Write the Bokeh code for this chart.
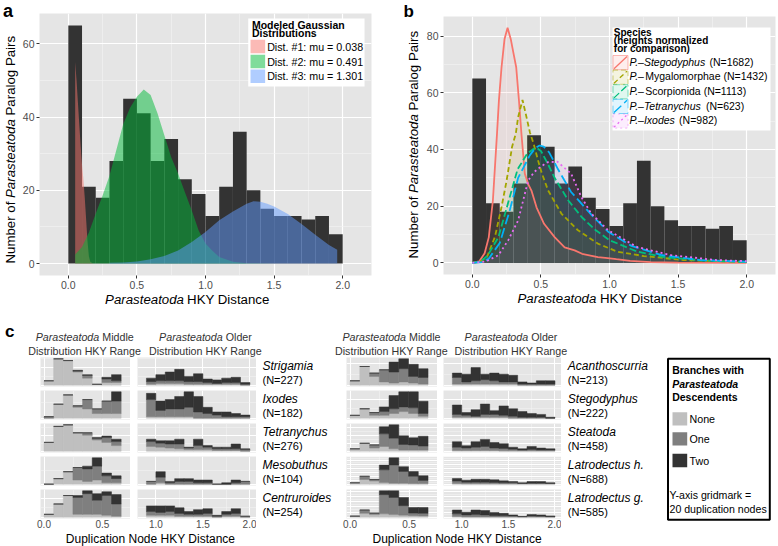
import math
from bokeh.plotting import figure
from bokeh.models import (Range1d, FixedTicker, SingleIntervalTicker, Label,
                          ColumnDataSource, PrintfTickFormatter)
from bokeh.layouts import row, column
from bokeh.embed import file_html
from bokeh.resources import INLINE

FONT = "Liberation Sans"

# ---------------- data: panels a / b ----------------
bin_left = [0.0, 0.1, 0.2, 0.3, 0.4, 0.5, 0.6, 0.7, 0.8, 0.9,
            1.0, 1.1, 1.2, 1.3, 1.4, 1.5, 1.6, 1.7, 1.8, 1.9]
bin_width = 0.1
pair_counts = [65, 21, 18, 28, 45, 41, 28, 34, 23, 19,
               13, 21, 36, 20, 15, 13, 13, 12, 13, 8]

dist1_x = [0.05, 0.06, 0.07, 0.08, 0.09, 0.10, 0.11, 0.12, 0.13, 0.14, 0.15, 0.16, 0.18]
dist1_y = [55, 50, 44, 38, 32, 27, 23, 18, 12, 6, 2, 0.5, 0]
dist2_x = [0.05, 0.10, 0.15, 0.20, 0.25, 0.30, 0.35, 0.40, 0.45, 0.50, 0.55, 0.60,
           0.65, 0.70, 0.75, 0.80, 0.85, 0.90, 0.95, 1.00, 1.05, 1.10, 1.20, 1.30, 1.50]
dist2_y = [2.5, 4.5, 8.5, 13.7, 18.6, 24, 31, 38, 42.5, 45.5, 47.5, 46,
           41, 35, 29, 24.6, 19.5, 14.5, 9, 5.5, 3.5, 1.8, 0.5, 0.1, 0]
dist3_x = [0.30, 0.40, 0.50, 0.60, 0.70, 0.80, 0.90, 1.00, 1.10, 1.20, 1.30, 1.35,
           1.40, 1.45, 1.50, 1.60, 1.70, 1.80, 1.90, 1.96]
dist3_y = [0.2, 0.3, 0.6, 1.2, 2.1, 3.6, 5.9, 8.6, 11.8, 14.2, 16.3, 17,
           16.9, 16.3, 15.6, 13.5, 10.8, 7.9, 5.1, 3.8]
dist_labels = ["Dist. #1: mu = 0.038", "Dist. #2: mu = 0.491", "Dist. #3: mu = 1.301"]
dist_colors = ["#F8766D", "#00BA38", "#619CFF"]

steg_x = [0.0, 0.05, 0.09, 0.12, 0.15, 0.18, 0.194, 0.213, 0.235, 0.257, 0.28, 0.30,
          0.32, 0.34, 0.359, 0.383, 0.41, 0.431, 0.468, 0.523, 0.60, 0.673, 0.746,
          0.80, 0.915, 0.97, 1.05, 1.15, 1.30, 1.50, 2.00]
steg_y = [0, 0.5, 3.4, 9, 22, 45.6, 57.3, 69, 79, 82.9, 79, 74,
          69, 57.3, 45, 31.4, 27.5, 25.5, 19.6, 13.8, 9.1, 5.5, 4.4,
          3.2, 2.0, 1.8, 1.3, 0.7, 0.3, 0.1, 0]
myg_x = [0.0, 0.05, 0.107, 0.165, 0.213, 0.25, 0.29, 0.317, 0.334, 0.366, 0.395, 0.42,
         0.45, 0.48, 0.504, 0.552, 0.649, 0.77, 0.915, 1.06, 1.25, 1.54, 2.0]
myg_y = [0, 0.3, 2.1, 9.2, 19.7, 29, 41, 45.6, 51.4, 57.5, 51.4, 46,
         41.5, 36, 32, 25.6, 17.4, 11.5, 6.8, 3.9, 2.4, 1.0, 0.3]
scor_x = [0.0, 0.06, 0.11, 0.19, 0.26, 0.33, 0.40, 0.44, 0.47, 0.50, 0.55, 0.60,
          0.70, 0.80, 0.90, 1.00, 1.20, 1.40, 1.70, 2.00]
scor_y = [0, 0.5, 2.5, 9, 21, 33, 38.5, 40, 40.5, 39.5, 35, 30,
          22, 16, 11.5, 8, 4, 2, 0.8, 0.3]
tetr_x = [0.0, 0.07, 0.12, 0.20, 0.27, 0.334, 0.42, 0.46, 0.49, 0.52, 0.56, 0.625,
          0.72, 0.867, 0.99, 1.16, 1.375, 1.66, 2.0]
tetr_y = [0, 0.3, 1.5, 7, 18, 30, 38, 40.5, 41.4, 41, 39, 33,
          25, 17, 11, 6, 2.8, 1, 0.4]
ixo_x = [0.0, 0.1, 0.19, 0.262, 0.334, 0.407, 0.45, 0.5, 0.55, 0.62, 0.66, 0.72,
         0.795, 0.867, 0.99, 1.2, 1.45, 1.78, 2.0]
ixo_y = [0, 0.5, 2.7, 8, 15, 29, 32, 34, 35.5, 35.7, 34, 31.5,
         23.2, 17.4, 11.5, 5.6, 2.7, 1, 0.6]
species_colors = ["#F8766D", "#A3A500", "#00BF7D", "#00B0F6", "#E76BF3"]
species_dash = ["solid", "5 3", "7 3", "10 4", "2 3"]
species_legend = [
    [("P.–Stegodyphus", "italic"), (" (N=1682)", "normal")],
    [("P.–", "italic"), ("Mygalomorphae (N=1432)", "normal")],
    [("P.–", "italic"), ("Scorpionida (N=1113)", "normal")],
    [("P.–Tetranychus", "italic"), (" (N=623)", "normal")],
    [("P.–Ixodes", "italic"), (" (N=982)", "normal")],
]

# ---------------- data: panel c ([none, one, two]) ----------------
mid_left = [0.0, 0.0825, 0.165, 0.2475, 0.33, 0.4125, 0.495, 0.5775]
mid_width = 0.0825
old_left = [0.9, 1.0, 1.1, 1.2, 1.3, 1.4, 1.5, 1.6, 1.7, 1.8, 1.9]
old_width = 0.1

strigamia_mid = [[5, 30, 28, 15, 8, 1, 3, 3], [0, 0, 0, 1, 3, 0, 4, 2], [0, 0, 0, 1, 1, 0, 2, 7]]
strigamia_old = [[1, 2, 2, 2, 1, 1, 1, 1, 1, 1, 0], [3, 3, 3, 3, 3, 3, 2, 1, 2, 2, 1], [4, 7, 10, 13, 6, 9, 4, 4, 5, 6, 2]]
ixodes_mid = [[0, 9, 15, 7, 6, 3, 3, 3], [1, 0, 0, 1, 6, 3, 8, 8], [0, 0, 0, 0, 0, 0, 0, 6]]
ixodes_old = [[1, 1, 1, 1, 1, 0, 0, 0, 0, 0, 0], [11, 4, 5, 5, 6, 4, 3, 2, 1, 1, 1], [4, 6, 6, 8, 10, 10, 4, 2, 3, 2, 1]]
tetranychus_mid = [[11, 31, 33, 23, 20, 14, 11, 7], [0, 0, 0, 0, 3, 2, 6, 5], [0, 0, 0, 0, 0, 1, 2, 3]]
tetranychus_old = [[6, 5, 4, 3, 2, 2, 2, 1, 1, 1, 0], [6, 5, 5, 6, 2, 5, 3, 2, 2, 2, 2], [3, 3, 4, 6, 1, 8, 2, 2, 2, 6, 1]]
mesobuthus_mid = [[0, 4, 9, 3, 2, 3, 1, 1], [0, 0, 0, 9, 9, 10, 5, 3], [0, 0, 0, 0, 2, 6, 2, 2]]
mesobuthus_old = [[0, 1, 0, 0, 0, 0, 0, 0, 0, 0, 0], [2, 4, 1, 2, 2, 1, 1, 0, 0, 1, 2], [0, 4, 1, 2, 2, 2, 2, 0, 1, 2, 0]]
centruroides_mid = [[3, 14, 23, 3, 3, 3, 2, 1], [0, 0, 0, 18, 22, 15, 21, 13], [0, 0, 0, 2, 3, 7, 4, 10]]
centruroides_old = [[2, 2, 2, 1, 1, 1, 1, 0, 1, 1, 0], [4, 3, 4, 3, 2, 2, 3, 1, 2, 3, 1], [6, 7, 6, 6, 3, 5, 5, 1, 3, 5, 0]]
acanthoscurria_mid = [[4, 17, 8, 3, 2, 3, 2, 1], [0, 0, 3, 11, 10, 12, 6, 6], [0, 0, 0, 0, 9, 9, 11, 8]]
acanthoscurria_old = [[1, 1, 1, 1, 1, 1, 1, 0, 0, 0, 0], [6, 2, 3, 4, 3, 2, 2, 1, 1, 1, 1], [4, 7, 12, 5, 7, 7, 6, 2, 1, 3, 3]]
stegodyphus_mid = [[3, 10, 3, 3, 5, 7, 5, 2], [0, 0, 3, 4, 5, 5, 6, 3], [0, 0, 0, 5, 14, 16, 17, 13]]
stegodyphus_old = [[1, 1, 1, 1, 1, 1, 0, 0, 0, 0, 0], [3, 2, 1, 3, 3, 2, 2, 1, 1, 1, 0], [10, 3, 7, 11, 4, 10, 8, 6, 4, 3, 1]]
steatoda_mid = [[6, 20, 8, 12, 6, 3, 3, 3], [0, 0, 8, 32, 27, 14, 13, 10], [0, 0, 0, 18, 34, 22, 18, 25]]
steatoda_old = [[2, 2, 2, 2, 2, 1, 1, 1, 1, 1, 1], [8, 6, 8, 10, 6, 6, 4, 2, 3, 2, 2], [14, 6, 14, 18, 14, 12, 5, 3, 8, 5, 3]]
latrodectus_h_mid = [[7, 24, 16, 8, 5, 5, 3, 3], [0, 16, 8, 65, 93, 60, 37, 16], [0, 0, 0, 24, 36, 24, 24, 24]]
latrodectus_h_old = [[3, 2, 2, 2, 2, 2, 2, 2, 2, 2, 2], [13, 8, 8, 8, 7, 5, 5, 2, 3, 3, 2], [13, 10, 15, 15, 13, 10, 7, 3, 8, 8, 3]]
latrodectus_g_mid = [[4, 15, 10, 13, 10, 8, 6, 5], [0, 13, 6, 75, 67, 37, 10, 10], [0, 0, 0, 15, 26, 32, 22, 23]]
latrodectus_g_old = [[3, 1, 1, 1, 1, 1, 1, 1, 1, 1, 1], [10, 8, 9, 8, 5, 5, 4, 1, 4, 3, 1], [15, 10, 18, 17, 12, 9, 4, 1, 5, 5, 3]]

left_species = [("Strigamia", "(N=227)", strigamia_mid, strigamia_old),
                ("Ixodes", "(N=182)", ixodes_mid, ixodes_old),
                ("Tetranychus", "(N=276)", tetranychus_mid, tetranychus_old),
                ("Mesobuthus", "(N=104)", mesobuthus_mid, mesobuthus_old),
                ("Centruroides", "(N=254)", centruroides_mid, centruroides_old)]
right_species = [("Acanthoscurria", "(N=213)", acanthoscurria_mid, acanthoscurria_old),
                 ("Stegodyphus", "(N=222)", stegodyphus_mid, stegodyphus_old),
                 ("Steatoda", "(N=458)", steatoda_mid, steatoda_old),
                 ("Latrodectus h.", "(N=688)", latrodectus_h_mid, latrodectus_h_old),
                 ("Latrodectus g.", "(N=585)", latrodectus_g_mid, latrodectus_g_old)]
stack_names = ["None", "One", "Two"]
stack_colors = ["#BFBFBF", "#7F7F7F", "#333333"]

# ---------------- text helpers ----------------
W = {' ': 278, '(': 333, ')': 333, '.': 278, ',': 278, ':': 278, '=': 584, '#': 556,
     '-': 333, '–': 556,
     'A': 667, 'B': 667, 'C': 722, 'D': 722, 'E': 667, 'F': 611, 'G': 778, 'H': 722,
     'I': 278, 'J': 500, 'K': 667, 'L': 556, 'M': 833, 'N': 722, 'O': 778, 'P': 667,
     'Q': 778, 'R': 722, 'S': 667, 'T': 611, 'U': 722, 'V': 667, 'W': 944, 'X': 667,
     'Y': 667, 'Z': 611,
     'a': 556, 'b': 556, 'c': 500, 'd': 556, 'e': 556, 'f': 278, 'g': 556, 'h': 556,
     'i': 222, 'j': 222, 'k': 500, 'l': 222, 'm': 833, 'n': 556, 'o': 556, 'p': 556,
     'q': 556, 'r': 333, 's': 500, 't': 278, 'u': 556, 'v': 500, 'w': 722, 'x': 500,
     'y': 500, 'z': 500}
MID = 0.3465  # distance from baseline to the middle of the font box, in em


def tw(s, size):
    return sum(W.get(ch, 556) for ch in s) * size / 1000.0


def add_text(p, fx, fy, segs, x, y, size, align="left", color="black", vertical=False):
    """(x, y) is the start (or centre) of the text baseline, in page pixels."""
    if isinstance(segs, str):
        segs = [(segs, "normal")]
    total = sum(tw(t, size) for t, _ in segs)
    pos = 0.0
    if align == "center":
        pos = -total / 2
    elif align == "right":
        pos = -total
    sp = tw(" ", size)
    for t, st in segs:
        core = t.strip(" ")
        if not core:
            pos += len(t) * sp
            continue
        pos += (len(t) - len(t.lstrip(" "))) * sp
        if vertical:
            lx, ly, ang = x - MID * size, y - pos, math.pi / 2
        else:
            lx, ly, ang = x + pos, y - MID * size, 0
        p.add_layout(Label(x=fx(lx), y=fy(ly), text=core, text_font=FONT,
                           text_font_size=f"{size}px", text_font_style=st,
                           text_color=color, text_align="left",
                           text_baseline="middle", angle=ang))
        pos += tw(core, size)
        pos += (len(t) - len(t.rstrip(" "))) * sp


def ident(v):
    return v


def base_fig(w, h, xr, yr, **kw):
    p = figure(width=w, height=h, x_range=xr, y_range=yr, output_backend="svg",
               toolbar_location=None, min_border=0, **kw)
    p.outline_line_color = None
    p.border_fill_color = "white"
    return p


def text_fig(w, h, x0, x1, y0, y1, **kw):
    # a text-only canvas whose data coordinates are page pixels (y grows downward)
    p = base_fig(w, h, Range1d(x0, x1), Range1d(y1, y0),
                 x_axis_location=None, y_axis_location=None, **kw)
    p.grid.visible = False
    p.background_fill_color = "white"
    return p


def style_axes(p, xt, xm, yt, ym):
    p.xaxis.ticker = FixedTicker(ticks=xt, minor_ticks=xm)
    p.yaxis.ticker = FixedTicker(ticks=yt, minor_ticks=ym)
    p.xaxis.formatter = PrintfTickFormatter(format="%.1f")
    for ax in (p.xaxis, p.yaxis):
        ax.axis_line_color = None
        ax.major_tick_line_color = "#333333"
        ax.major_tick_out = 3
        ax.major_tick_in = 0
        ax.minor_tick_line_color = None
        ax.major_label_text_font_size = "10.5px"
        ax.major_label_text_color = "#4D4D4D"
        ax.major_label_text_font = FONT
        ax.major_label_standoff = 1
    p.grid.grid_line_color = "white"
    p.grid.grid_line_width = 1.2
    p.grid.minor_grid_line_color = "#F4F4F4"
    p.grid.minor_grid_line_width = 0.6
    p.background_fill_color = "#E5E5E5"


def mapper(fl, fr, x0, x1, ft, fb, ytop, ybot):
    fx = lambda px: x0 + (px - fl) / (fr - fl) * (x1 - x0)
    fy = lambda py: ytop - (py - ft) / (fb - ft) * (ytop - ybot)
    return fx, fy


TOP_H = 320

# ---------------- panel a ----------------
ya = text_fig(19, TOP_H, 0, 19, 0, TOP_H)
add_text(ya, ident, ident, [("a", "bold")], 2.5, 17, 18)
add_text(ya, ident, ident, [("Number of ", "normal"), ("Parasteatoda", "italic"), (" Paralog Pairs", "normal")],
         14.5, 263, 13.25, vertical=True)

pa = base_fig(366, 291, Range1d(-0.21, 2.21), Range1d(-3.25, 68.25),
              min_border_left=18, min_border_right=14, min_border_top=13, min_border_bottom=16)
style_axes(pa, [0, 0.5, 1, 1.5, 2], [0.25, 0.75, 1.25, 1.75], [0, 20, 40, 60], [10, 30, 50])
fxa, fya = mapper(37, 371, -0.21, 2.21, 13, 275, 68.25, -3.25)
pa.quad(left=bin_left, right=[b + bin_width for b in bin_left], bottom=0, top=pair_counts,
        fill_color="#333333", line_color=None)
for xs, ys, c in zip([dist1_x, dist2_x, dist3_x], [dist1_y, dist2_y, dist3_y], dist_colors):
    pa.varea(x=xs, y1=[0] * len(xs), y2=ys, fill_color=c, fill_alpha=0.5)
pa.quad(left=fxa(247), right=fxa(364), top=fya(18), bottom=fya(86), fill_color="white", line_color=None)
for i, c in enumerate(dist_colors):
    kt = [39.3, 54.3, 69.0][i]
    pa.quad(left=fxa(249.3), right=fxa(264), top=fya(kt), bottom=fya(kt + 13.4),
            fill_color=c, fill_alpha=0.5, line_color=None)
    add_text(pa, fxa, fya, dist_labels[i], 266, [50, 65, 79.5][i], 10.7)
add_text(pa, fxa, fya, [("Modeled Gaussian", "bold")], 250.7, 28.3, 10.5)
add_text(pa, fxa, fya, [("Distributions", "bold")], 250.7, 36, 10.5)

# same side borders as pa (a column aligns them); the frame spans page x 37..371
xa = text_fig(366, TOP_H - 291, 37, 371, 291, TOP_H, min_border_left=18, min_border_right=14)
add_text(xa, ident, ident, [("Parasteatoda", "italic"), (" HKY Distance", "normal")], 103, 303.3, 13.25)

# ---------------- panel b ----------------
yb = text_fig(37, TOP_H, 385, 422, 0, TOP_H)
add_text(yb, ident, ident, [("b", "bold")], 403, 16.5, 17)
add_text(yb, ident, ident, [("Number of ", "normal"), ("Parasteatoda", "italic"), (" Paralog Pairs", "normal")],
         417.5, 258, 13.25, vertical=True)

pb = base_fig(356, 290, Range1d(-0.21, 2.21), Range1d(-4.1, 86.9),
              min_border_left=21, min_border_right=3, min_border_top=16, min_border_bottom=16)
style_axes(pb, [0, 0.5, 1, 1.5, 2], [0.25, 0.75, 1.25, 1.75], [0, 20, 40, 60, 80], [10, 30, 50, 70])
fxb, fyb = mapper(443, 775, -0.21, 2.21, 16, 274, 86.9, -4.1)
pb.quad(left=bin_left, right=[b + bin_width for b in bin_left], bottom=0, top=pair_counts,
        fill_color="#333333", line_color=None)
curves_x = [steg_x, myg_x, scor_x, tetr_x, ixo_x]
curves_y = [steg_y, myg_y, scor_y, tetr_y, ixo_y]
for xs, ys, c in zip(curves_x, curves_y, species_colors):
    pb.varea(x=xs, y1=[0] * len(xs), y2=ys, fill_color=c, fill_alpha=0.08)
for xs, ys, c, d in zip(curves_x, curves_y, species_colors, species_dash):
    pb.line(x=xs, y=ys, line_color=c, line_width=1.8, line_dash=d)
pb.quad(left=fxb(612), right=fxb(770), top=fyb(27), bottom=fyb(130), fill_color="white", line_color=None)
for i, (c, d) in enumerate(zip(species_colors, species_dash)):
    kt = 55 + 14.6 * i
    pb.quad(left=fxb(612.5), right=fxb(627.5), top=fyb(kt), bottom=fyb(kt + 14.2),
            fill_color=c, fill_alpha=0.12, line_color=c, line_alpha=0.5, line_dash=d, line_width=1)
    pb.segment(x0=fxb(613.5), y0=fyb(kt + 13.2), x1=fxb(626.5), y1=fyb(kt + 1),
               line_color=c, line_width=1.3, line_dash=d)
    add_text(pb, fxb, fyb, species_legend[i], 629, kt + 10, 10.5)
add_text(pb, fxb, fyb, [("Species", "bold")], 613.3, 35, 10)
add_text(pb, fxb, fyb, [("(heights normalized", "bold")], 613.3, 43, 10)
add_text(pb, fxb, fyb, [("for comparison)", "bold")], 613.3, 51, 10)

xb = text_fig(356, TOP_H - 290, 443, 775, 290, TOP_H, min_border_left=21, min_border_right=3)
add_text(xb, ident, ident, [("Parasteatoda", "italic"), (" HKY Distance", "normal")], 517, 302.3, 13.25)


# ---------------- panel c ----------------
def small(vals, lefts, bw, xr, ticks, minor, ymax, w, bl, last):
    h = 42 if last else 33
    bb = 13 if last else 4
    p = base_fig(w, h, Range1d(*xr), Range1d(-0.05 * ymax, 1.05 * ymax),
                 min_border_left=bl, min_border_right=0, min_border_top=0, min_border_bottom=bb,
                 x_axis_location="below" if last else None, y_axis_location=None)
    p.background_fill_color = "#E5E5E5"
    p.xgrid.ticker = FixedTicker(ticks=ticks, minor_ticks=minor)
    p.ygrid.ticker = SingleIntervalTicker(interval=20, num_minor_ticks=2)
    p.grid.grid_line_color = "white"
    p.grid.grid_line_width = 1
    p.grid.minor_grid_line_color = "#F4F4F4"
    p.grid.minor_grid_line_width = 0.5
    if last:
        p.xaxis.ticker = FixedTicker(ticks=ticks)
        p.xaxis.formatter = PrintfTickFormatter(format="%.1f")
        p.xaxis.axis_line_color = None
        p.xaxis.major_tick_line_color = None
        p.xaxis.minor_tick_line_color = None
        p.xaxis.major_tick_out = 0
        p.xaxis.major_tick_in = 0
        p.xaxis.major_label_standoff = 1
        p.xaxis.major_label_text_font_size = "10px"
        p.xaxis.major_label_text_font = FONT
        p.xaxis.major_label_text_color = "#4D4D4D"
    src = ColumnDataSource(dict(x=[l + bw / 2 for l in lefts], none=vals[0], one=vals[1], two=vals[2]))
    p.vbar_stack(["none", "one", "two"], x="x", width=bw, source=src,
                 fill_color=stack_colors, line_color=stack_colors, line_width=0.5)
    return p


def stacked_max(vals):
    return max(a + b + c for a, b, c in zip(*vals))


def build_group(species, wm, blm, wo, blo):
    mids, olds = [], []
    for i, (_, _, mv, ov) in enumerate(species):
        ymax = max(stacked_max(mv), stacked_max(ov))
        last = i == len(species) - 1
        mids.append(small(mv, mid_left, mid_width, (-0.03, 0.74), [0.0, 0.5], [0.25], ymax, wm, blm, last))
        olds.append(small(ov, old_left, old_width, (0.805, 2.07), [1.0, 1.5, 2.0], [1.25, 1.75], ymax, wo, blo, last))
    return column(*mids, spacing=0), column(*olds, spacing=0)


row_tops = [357, 390, 423, 456, 489]


def label_fig(species, w, x0, x1, tx):
    p = text_fig(w, 174, x0, x1, 357, 531)
    for top, (genus, n, _, _) in zip(row_tops, species):
        add_text(p, ident, ident, [(genus, "italic")], tx, top + 13, 12)
        add_text(p, ident, ident, n, tx, top + 26, 11)
    return p


lm_col, lo_col = build_group(left_species, 130, 40, 126, 7)
rm_col, ro_col = build_group(right_species, 97, 6, 124, 6)
lab_l = label_fig(left_species, 84, 256, 340, 262)
lab_r = label_fig(right_species, 105, 561, 666, 567.3)

header = text_fig(666, 357 - TOP_H, 0, 666, TOP_H, 357)
add_text(header, ident, ident, [("c", "bold")], 4.5, 337, 17)
for cx in (84.2, 391):
    add_text(header, ident, ident, [("Parasteatoda", "italic"), (" Middle", "normal")], cx, 340.5, 10.7,
             align="center", color="#333333")
    add_text(header, ident, ident, "Distribution HKY Range", cx, 354.3, 10.7, align="center", color="#333333")
for cx in (205, 510.5):
    add_text(header, ident, ident, [("Parasteatoda", "italic"), (" Older", "normal")], cx, 340.5, 10.7,
             align="center", color="#333333")
    add_text(header, ident, ident, "Distribution HKY Range", cx, 354.3, 10.7, align="center", color="#333333")

footer = text_fig(666, 15, 0, 666, 531, 546)
for cx in (150, 456.7):
    add_text(footer, ident, ident, "Duplication Node HKY Distance", cx, 542.5, 12, align="center")

legend_c = text_fig(112, 546 - TOP_H, 666, 778, TOP_H, 546)
legend_c.quad(left=667.5, right=769.3, top=358.3, bottom=519.3, fill_color="white",
              line_color="black", line_width=2)
add_text(legend_c, ident, ident, [("Branches with", "bold")], 671.7, 373.3, 10.5)
add_text(legend_c, ident, ident, [("Parasteatoda", "bold italic")], 671.7, 386.7, 10.5)
add_text(legend_c, ident, ident, [("Descendents", "bold")], 671.7, 400, 10.5)
for kt, name, col, base in zip([411.7, 431.7, 453.3], stack_names, stack_colors, [422.2, 442.2, 464.3]):
    legend_c.quad(left=672, right=686.7, top=kt, bottom=kt + 13.4, fill_color=col, line_color=None)
    add_text(legend_c, ident, ident, name, 689, base, 10.7)
add_text(legend_c, ident, ident, "Y-axis gridmark =", 669, 498.3, 10.6)
add_text(legend_c, ident, ident, "20 duplication nodes", 669, 511.7, 10.6)

block_a = row(ya, column(pa, xa, spacing=0), spacing=0)
block_b = row(yb, column(pb, xb, spacing=0), spacing=0)
top = row(block_a, block_b, spacing=0)
grid_block = row(lm_col, lo_col, lab_l, rm_col, ro_col, lab_r, spacing=0)
left_bottom = column(header, grid_block, footer, spacing=0)
bottom = row(left_bottom, legend_c, spacing=0)
layout = column(top, bottom, spacing=0)

open("out.html", "w").write(file_html(layout, INLINE, "chart"))
